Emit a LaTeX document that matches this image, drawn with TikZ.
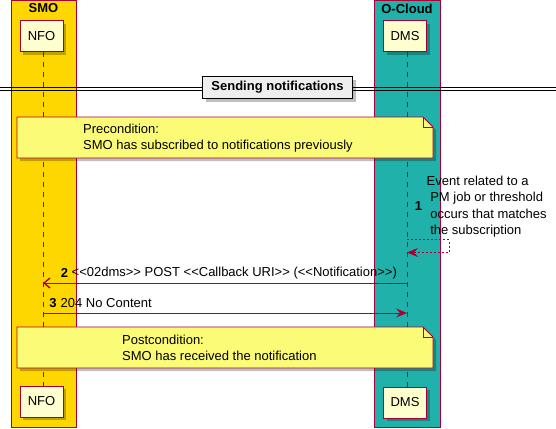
\documentclass[tikz,border=0pt]{standalone}
\usepackage{fontspec}
\setmainfont{Liberation Sans}
\usetikzlibrary{arrows.meta,shadows,calc}
\definecolor{pborder}{HTML}{A80036}
\definecolor{pfill}{HTML}{FEFECE}
\definecolor{nfill}{HTML}{FBFB77}
\definecolor{smofill}{HTML}{FFD700}
\definecolor{ocfill}{HTML}{20B2AA}
\definecolor{divfill}{HTML}{EEEEEE}
\tikzset{
  every node/.style={font=\fontsize{13}{16.3}\selectfont, inner sep=0pt},
  grp/.style={draw=pborder, line width=1pt},
  grptitle/.style={font=\fontsize{13}{16}\selectfont\bfseries},
  part/.style={draw=pborder, fill=pfill, line width=1pt, minimum width=43pt, minimum height=31pt,
    drop shadow={shadow xshift=3pt, shadow yshift=-3pt, fill=black, opacity=0.25}},
  lifeline/.style={draw=pborder, line width=0.8pt, dash pattern=on 5pt off 5pt},
  msg/.style={draw=pborder, line width=0.8pt},
  headfill/.style={-{Stealth[length=11pt,width=9pt,inset=4pt]}},
  headopen/.style={-{Straight Barb[length=6pt,width=10pt,line width=1.3pt]}},
  notebox/.style={draw=pborder, fill=nfill, line width=0.8pt},
  num/.style={font=\fontsize{13}{16}\selectfont\bfseries},
  txt/.style={anchor=west},
}
\begin{document}
\begin{tikzpicture}[x=1pt,y=-1pt]
\useasboundingbox (0,0) rectangle (556,428);
% groups
\path[grp, fill=smofill] (11,0.5) rectangle (76,427);
\path[grp, fill=ocfill] (374,0.5) rectangle (440,427);
\node[grptitle] (smot) at (43.5,8.5) {SMO};
\node[grptitle] (oct) at (407,8.5) {O-Cloud};
% participants
\node[part] (nfotop) at (41.5,36.5) {NFO};
\node[part] (dmstop) at (405,36.5) {DMS};
\node[part] (nfobot) at (41.5,401.5) {NFO};
\node[part] (dmsbot) at (405,402.5) {DMS};
% lifelines
\coordinate (nfoA) at (43,52);
\coordinate (nfoB) at (43,386);
\coordinate (dmsA) at (407,52);
\coordinate (dmsB) at (407,387);
\draw[lifeline] (nfoA) -- (nfoB);
\draw[lifeline] (dmsA) -- (dmsB);
% divider
\coordinate (dl) at (0,89);
\coordinate (dr) at (556,89);
\draw[line width=1pt] ($(dl)+(0,-1.5)$) -- ($(dr)+(0,-1.5)$);
\draw[line width=1pt] ($(dl)+(0,1.5)$) -- ($(dr)+(0,1.5)$);
\node[draw=black, line width=1.6pt, fill=divfill, minimum width=150pt, minimum height=22pt,
  font=\fontsize{13}{16}\selectfont\bfseries,
  drop shadow={shadow xshift=3pt, shadow yshift=-3pt, fill=black, opacity=0.25}]
  (div) at (277.5,87.5) {Sending notifications};
% precondition note
\path[notebox, drop shadow={shadow xshift=3pt, shadow yshift=-3pt, fill=black, opacity=0.25}]
  (17,117) -- (423,117) -- (433,127) -- (433,158) -- (17,158) -- cycle;
\draw[pborder, line width=0.8pt] (423,117) -- (423,127) -- (433,127);
\node[txt, align=left] (pre) at (83,138) {Precondition:\\SMO has subscribed to notifications previously};
% self message 1
\node[num] (n1) at (418.5,206) {1};
\node[txt, align=left] (t1) at (426.5,206.5) {Event related to a\\\ PM job or threshold\\\ occurs that matches\\\ the subscription};
\coordinate (s1a) at (407,239.5);
\coordinate (s1b) at (449,239.5);
\coordinate (s1c) at (449,252.5);
\coordinate (s1d) at (407,252.5);
\draw[msg, dash pattern=on 2pt off 2pt, headfill] (s1a) -- (s1b) -- (s1c) -- (s1d);
% message 2
\coordinate (m2a) at (407,283);
\coordinate (m2b) at (43,283);
\draw[msg, headopen] (m2a) -- (m2b);
\node[num] (n2) at (64.5,273) {2};
\node[txt] (t2) at (71.5,273) {<{}<02dms>{}> POST <{}<Callback URI>{}> (<{}<Notification>{}>)};
% message 3
\coordinate (m3a) at (43,313);
\coordinate (m3b) at (407,313);
\draw[msg, headfill] (m3a) -- (m3b);
\node[num] (n3) at (53,303) {3};
\node[txt] (t3) at (60.5,303) {204 No Content};
% postcondition note
\path[notebox, drop shadow={shadow xshift=3pt, shadow yshift=-3pt, fill=black, opacity=0.25}]
  (17,327) -- (423,327) -- (433,337) -- (433,368) -- (17,368) -- cycle;
\draw[pborder, line width=0.8pt] (423,327) -- (423,337) -- (433,337);
\node[txt, align=left] (post) at (122,348) {Postcondition:\\SMO has received the notification};
\end{tikzpicture}
\end{document}
